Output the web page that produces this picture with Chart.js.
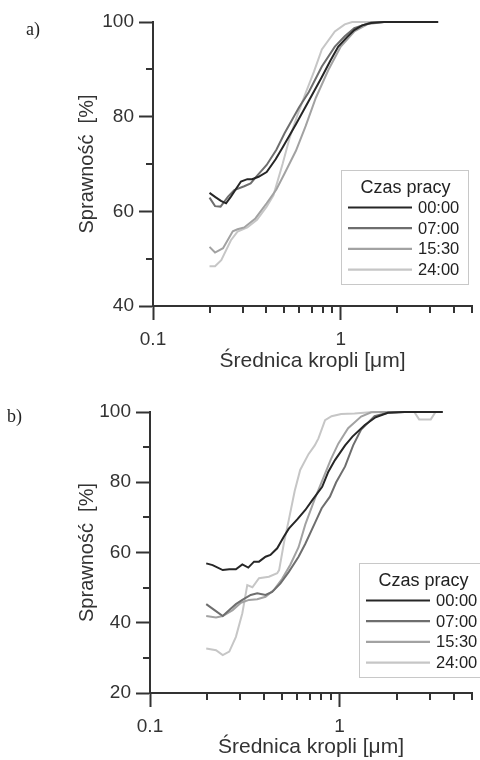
<!DOCTYPE html>
<html>
<head>
<meta charset="utf-8">
<script src="https://cdn.jsdelivr.net/npm/chart.js@4.4.1/dist/chart.umd.min.js"></script>
<style>
  body { margin: 0; background: #fff; }
  #wrap { position: relative; width: 480px; height: 760px; overflow: hidden; }
  canvas { position: absolute; left: 0; }
  .tag { position: absolute; font-family: 'Liberation Serif', 'Times New Roman', serif; font-size: 18px; line-height: 18px; color: #222; }
</style>
</head>
<body>
<div id="wrap">
  <canvas id="chartA" width="480" height="380" style="top:0"></canvas>
  <canvas id="chartB" width="480" height="380" style="top:380px"></canvas>
  <div class="tag" style="left:26px;top:20px">a)</div>
  <div class="tag" style="left:7px;top:407px">b)</div>
</div>
<script>
// series labels and colours
var seriesNames = ['00:00', '07:00', '15:30', '24:00'];
var seriesColors = ['#262626', '#6e6e6e', '#a2a2a2', '#c6c6c6'];

// x tick positions (log axis), labelled only at decades
var xTicks = [0.1, 0.2, 0.3, 0.4, 0.5, 0.6, 0.7, 0.8, 0.9, 1, 2, 3, 4, 5];

// chart a) - [droplet diameter um, efficiency %]
var a0000 = [[0.2,63.9],[0.215,63.0],[0.23,62.2],[0.245,61.7],[0.26,63.1],[0.294,66.3],[0.318,66.8],[0.337,66.8],[0.365,67.3],[0.403,68.3],[0.45,71.0],[0.49,73.5],[0.577,78.4],[0.69,84.0],[0.793,88.4],[0.88,91.8],[0.97,94.8],[1.08,96.8],[1.18,98.3],[1.3,99.3],[1.45,99.8],[1.7,100],[2.5,100],[3.3,100]];
var a0700 = [[0.2,62.9],[0.214,61.1],[0.229,61.0],[0.251,63.1],[0.271,64.5],[0.306,65.3],[0.331,65.9],[0.358,67.5],[0.403,69.8],[0.454,73.0],[0.502,76.5],[0.6,82.0],[0.676,85.2],[0.793,90.6],[0.93,94.8],[1.05,97.0],[1.18,98.7],[1.45,99.9],[1.7,100],[2.5,100],[3.3,100]];
var a1530 = [[0.2,52.5],[0.214,51.3],[0.236,52.2],[0.266,55.8],[0.282,56.2],[0.306,56.6],[0.351,58.5],[0.403,61.7],[0.454,64.6],[0.502,68.0],[0.577,72.8],[0.65,78.0],[0.737,84.0],[0.86,89.9],[1.0,94.8],[1.18,98.0],[1.4,99.6],[1.7,100],[2.5,100],[3.3,100]];
var a2400 = [[0.2,48.4],[0.214,48.4],[0.231,49.7],[0.26,53.9],[0.282,55.7],[0.318,56.6],[0.358,58.2],[0.403,61.0],[0.438,63.4],[0.49,70.0],[0.533,75.4],[0.59,80.5],[0.65,85.0],[0.72,89.5],[0.793,94.2],[0.93,98.0],[1.05,99.5],[1.15,100],[2.5,100],[3.3,100]];

// chart b)
var b0000 = [[0.198,56.9],[0.214,56.4],[0.242,55.0],[0.262,55.2],[0.284,55.2],[0.307,56.6],[0.33,55.7],[0.354,57.4],[0.376,57.4],[0.407,58.8],[0.432,59.3],[0.469,61.2],[0.508,64.5],[0.54,66.8],[0.6,69.5],[0.66,72.1],[0.72,75.0],[0.81,78.7],[0.873,83.0],[0.946,86.3],[1.07,90.5],[1.17,93.0],[1.36,96.3],[1.55,98.5],[1.8,99.8],[2.2,100],[3.5,100]];
var b0700 = [[0.198,45.3],[0.219,43.6],[0.242,41.9],[0.262,43.6],[0.284,45.3],[0.307,46.5],[0.34,47.9],[0.368,48.4],[0.407,47.9],[0.441,48.8],[0.488,51.2],[0.54,54.5],[0.608,58.8],[0.66,62.5],[0.74,68.3],[0.805,72.6],[0.89,75.9],[0.96,80.0],[1.07,84.5],[1.18,90.5],[1.3,95.0],[1.53,98.8],[1.8,99.8],[2.2,100],[3.5,100]];
var b1530 = [[0.198,41.9],[0.223,41.5],[0.242,41.9],[0.273,43.6],[0.302,45.7],[0.333,46.5],[0.368,46.7],[0.407,47.4],[0.45,49.3],[0.498,52.5],[0.55,56.5],[0.608,61.5],[0.66,68.0],[0.743,75.5],[0.84,82.5],[0.9,86.5],[0.985,91.0],[1.11,95.4],[1.3,98.7],[1.47,99.9],[1.7,100],[3.5,100]];
var b2400 = [[0.198,32.7],[0.223,32.2],[0.242,30.8],[0.262,31.8],[0.284,36.0],[0.307,42.7],[0.326,50.7],[0.347,50.1],[0.376,52.7],[0.424,53.1],[0.469,54.1],[0.48,55.0],[0.51,63.0],[0.54,69.3],[0.58,77.5],[0.62,83.5],[0.686,88.0],[0.74,90.5],[0.774,92.5],[0.839,97.7],[0.908,98.8],[1.02,99.4],[1.2,99.6],[1.5,100],[2.48,100],[2.63,97.9],[3.03,97.9],[3.21,100],[3.5,100]];

var axisColor = '#333333';
var fontFamily = "'Liberation Sans', Arial, sans-serif";

function xLabel(v) {
  if (v === 0.1) return '0.1';
  if (v === 1) return '1';
  return '';
}

function yLabel(v) {
  return v % 20 === 0 ? String(v) : '';
}

// short ticks for the unlabelled values, long ones come from the grid
var minorTicks = {
  id: 'minorTicks',
  afterDraw: function(chart) {
    var ctx = chart.ctx;
    var xs = chart.scales.x, ys = chart.scales.y;
    ctx.save();
    ctx.strokeStyle = axisColor;
    ctx.lineWidth = 2;
    xs.ticks.forEach(function(t) {
      if (xLabel(t.value) !== '') return;
      var px = Math.round(xs.getPixelForValue(t.value));
      ctx.beginPath();
      ctx.moveTo(px, xs.top);
      ctx.lineTo(px, xs.top + 7);
      ctx.stroke();
    });
    ys.ticks.forEach(function(t) {
      if (yLabel(t.value) !== '') return;
      var py = Math.round(ys.getPixelForValue(t.value));
      ctx.beginPath();
      ctx.moveTo(ys.right, py);
      ctx.lineTo(ys.right - 7, py);
      ctx.stroke();
    });
    ctx.restore();
  }
};

// boxed legend with title, line sample on the left, label on the right
var boxLegend = {
  id: 'boxLegend',
  afterDraw: function(chart, args, opts) {
    var ctx = chart.ctx;
    var left = opts.left, top = opts.top, w = 127, h = 114;
    ctx.save();
    ctx.fillStyle = '#fff';
    ctx.fillRect(left, top, w, h);
    ctx.strokeStyle = '#c8c8c8';
    ctx.lineWidth = 1;
    ctx.strokeRect(left + 0.5, top + 0.5, w, h);
    ctx.fillStyle = '#222';
    ctx.font = '18px ' + fontFamily;
    ctx.textAlign = 'center';
    ctx.textBaseline = 'alphabetic';
    ctx.fillText('Czas pracy', left + w / 2 + 1, top + 23);
    ctx.font = '16.5px ' + fontFamily;
    ctx.textAlign = 'left';
    ctx.textBaseline = 'middle';
    chart.data.datasets.forEach(function(ds, i) {
      var y = top + 37.5 + i * 20.7;
      ctx.strokeStyle = ds.borderColor;
      ctx.lineWidth = 2.2;
      ctx.beginPath();
      ctx.moveTo(left + 7, y);
      ctx.lineTo(left + 71, y);
      ctx.stroke();
      ctx.fillText(ds.label, left + 77, y + 1);
    });
    ctx.restore();
  }
};

function makeChart(id, series, yMin, area, legendPos) {
  var datasets = series.map(function(s, i) {
    return {
      label: seriesNames[i],
      data: s.map(function(p) { return {x: p[0], y: p[1]}; }),
      borderColor: seriesColors[i],
      backgroundColor: seriesColors[i],
      borderWidth: 2,
      pointRadius: 0,
      tension: 0,
      clip: false,
      order: i
    };
  });

  return new Chart(document.getElementById(id), {
    type: 'line',
    data: { datasets: datasets },
    options: {
      responsive: false,
      animation: false,
      devicePixelRatio: 1,
      layout: { padding: { top: area.top, right: area.right, left: 0, bottom: 0 } },
      plugins: {
        legend: { display: false },
        tooltip: { enabled: false },
        boxLegend: legendPos
      },
      scales: {
        x: {
          type: 'logarithmic',
          min: 0.1,
          max: 5,
          afterBuildTicks: function(scale) {
            scale.ticks = xTicks.map(function(v) { return {value: v}; });
          },
          afterFit: function(scale) { scale.height = area.xHeight; },
          border: { display: true, color: axisColor, width: 2 },
          grid: {
            display: true,
            drawOnChartArea: false,
            drawTicks: true,
            tickLength: 14,
            tickWidth: 2,
            tickColor: function(c) { return c.tick && xLabel(c.tick.value) !== '' ? axisColor : 'rgba(0,0,0,0)'; }
          },
          ticks: {
            autoSkip: false,
            maxRotation: 0,
            padding: 8,
            color: '#333',
            font: { family: fontFamily, size: 19 },
            callback: function(v) { return xLabel(v); }
          },
          title: {
            display: true,
            text: 'Średnica kropli [μm]',
            color: '#333',
            font: { family: fontFamily, size: 21 },
            padding: { top: 0, bottom: area.titlePad }
          }
        },
        y: {
          type: 'linear',
          min: yMin,
          max: 100,
          afterFit: function(scale) { scale.width = area.left; },
          border: { display: true, color: axisColor, width: 2 },
          grid: {
            display: true,
            drawOnChartArea: false,
            drawTicks: true,
            tickLength: 14,
            tickWidth: 2,
            tickColor: function(c) { return c.tick && yLabel(c.tick.value) !== '' ? axisColor : 'rgba(0,0,0,0)'; }
          },
          ticks: {
            stepSize: 10,
            autoSkip: false,
            padding: 5,
            color: '#333',
            font: { family: fontFamily, size: 19 },
            callback: function(v) { return yLabel(v); }
          },
          title: {
            display: true,
            text: 'Sprawność  [%]',
            color: '#333',
            font: { family: fontFamily, size: 20 },
            padding: { top: 75, bottom: 0 }
          }
        }
      }
    },
    plugins: [minorTicks, boxLegend]
  });
}

makeChart('chartA', [a0000, a0700, a1530, a2400], 40,
  { top: 22, right: 0, left: 153, xHeight: 74, titlePad: 6 },
  { left: 341, top: 170 });

makeChart('chartB', [b0000, b0700, b1530, b2400], 20,
  { top: 32, right: 5, left: 150, xHeight: 67, titlePad: 0 },
  { left: 359, top: 183 });
</script>
</body>
</html>
